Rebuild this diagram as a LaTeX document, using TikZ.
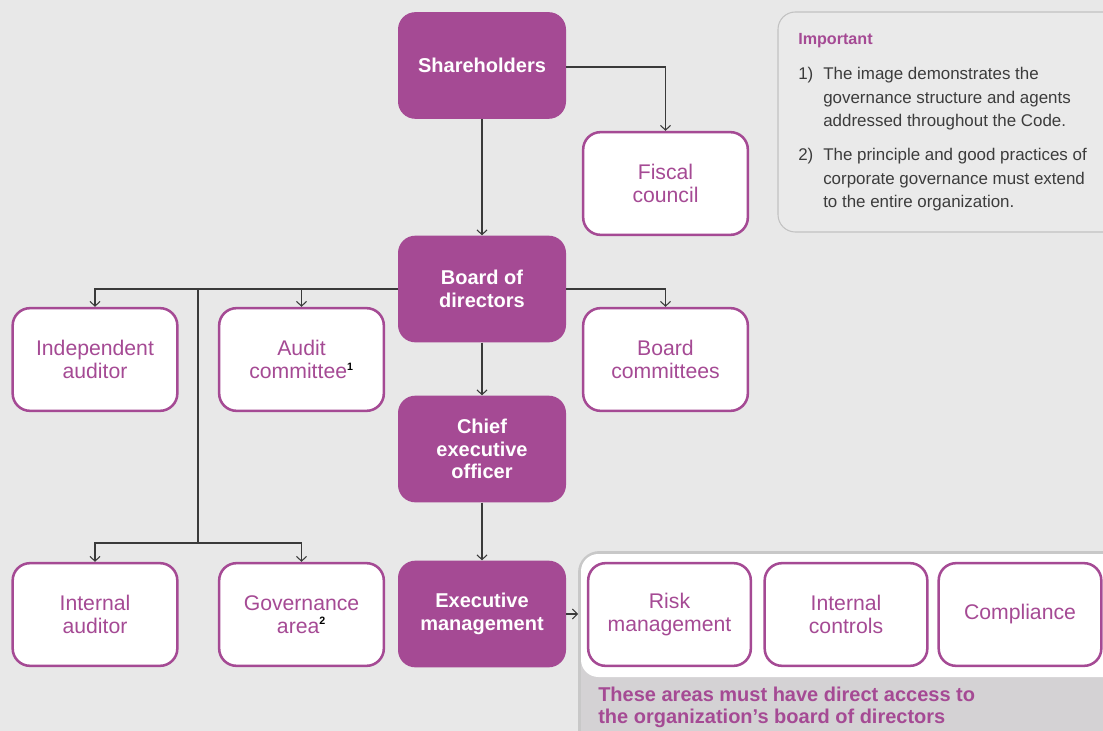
\documentclass[tikz,border=0pt]{standalone}
\usepackage{fontspec}
\setmainfont{Liberation Sans}
\usetikzlibrary{arrows.meta}
\definecolor{bg}{HTML}{E8E8E8}
\definecolor{purp}{HTML}{A54A94}
\definecolor{linec}{HTML}{3A3A3A}
\definecolor{txt}{HTML}{3C3C3C}
\definecolor{greyfill}{HTML}{D4D2D4}
\definecolor{greyedge}{HTML}{C8C8C8}
\definecolor{impfill}{HTML}{EAEAEA}
\definecolor{impedge}{HTML}{C2C2C2}
\newcommand{\supnum}[1]{\textsuperscript{\color{black}\bfseries\fontsize{8}{8}\selectfont #1}}
\begin{document}
\begin{tikzpicture}[x=0.75pt,y=-0.75pt,
 box/.style={rectangle, rounded corners=13pt, inner sep=0pt, align=center},
 dark/.style={box, fill=purp, text=white, minimum width=126pt, minimum height=80pt, font=\fontsize{15}{17}\selectfont\bfseries},
 light/.style={box, fill=white, draw=purp, line width=1.9pt, text=purp, minimum width=123.5pt, minimum height=77pt, font=\fontsize{15.9}{17}\selectfont},
 conn/.style={draw=linec, line width=0.8pt, -{Straight Barb[length=3.6pt,width=7.5pt]}},
 plain/.style={draw=linec, line width=0.8pt},
 imp/.style={anchor=base west, text=txt, inner sep=0pt, font=\fontsize{12.7}{18}\selectfont},
 note/.style={anchor=base west, text=purp, inner sep=0pt, font=\fontsize{15}{16.5}\selectfont\bfseries}]
\useasboundingbox (0,0) rectangle (1103,731);
\clip (0,0) rectangle (1103,731);
\fill[bg] (0,0) rectangle (1103,731);

% Important box
\draw[impedge, fill=impfill, line width=0.8pt, rounded corners=13pt] (778,12) rectangle (1140,232);
\node[anchor=base west, text=purp, inner sep=0pt, font=\fontsize{12.1}{13}\selectfont\bfseries] (imptitle) at (798,45) {Important};
\node[imp] (n1) at (798,80) {1)};
\node[imp] (l1a) at (823,80) {The image demonstrates the};
\node[imp] (l1b) at (823,103.5) {governance structure and agents};
\node[imp] (l1c) at (823,127) {addressed throughout the Code.};
\node[imp] (n2) at (798,161) {2)};
\node[imp] (l2a) at (823,161) {The principle and good practices of};
\node[imp] (l2b) at (823,184.5) {corporate governance must extend};
\node[imp] (l2c) at (823,208) {to the entire organization.};

% container for control areas
\draw[greyedge, fill=greyfill, line width=2.2pt, rounded corners=15pt] (579.5,552.5) rectangle (1140,770);
\fill[white, rounded corners=13pt] (581,554) rectangle (1140,677);
\node[note] (t1) at (598,701) {These areas must have direct access to};
\node[note] (t2) at (598,723) {the organization’s board of directors};
\coordinate (contw) at (578,614);

% nodes
\node[dark] (sh) at (482,65.5) {Shareholders};
\node[light] (fc) at (665.5,183.5) {Fiscal\\council};
\node[dark] (bd) at (482,289) {Board of\\directors};
\node[light] (ia) at (95,359.5) {Independent\\auditor};
\node[light] (ac) at (301.5,359.5) {Audit\\committee\supnum{1}};
\node[light] (bc) at (665.5,359.5) {Board\\committees};
\node[dark] (ceo) at (482,449) {Chief\\executive\\officer};
\node[light] (ina) at (95,614.5) {Internal\\auditor};
\node[light] (ga) at (301.5,614.5) {Governance\\area\supnum{2}};
\node[dark] (em) at (482,614) {Executive\\management};
\node[light, minimum width=122pt] (rm) at (669.5,614.5) {Risk\\management};
\node[light, minimum width=122pt] (ic) at (846,614.5) {Internal\\controls};
\node[light, minimum width=122pt] (co) at (1020,614.5) {Compliance};

% connectors
\coordinate (shr) at (566,67);
\draw[conn] (shr) -| (fc.north);
\draw[conn] (sh.south) -- (bd.north);
\draw[conn] (bd.west) -| (ia.north);
\draw[conn] (bd.west) -| (ac.north);
\draw[conn] (bd.east) -| (bc.north);
\coordinate (vt) at (198,289);
\coordinate (vb) at (198,543);
\draw[plain] (vt) -- (vb);
\draw[conn] (vb) -| (ina.north);
\draw[conn] (vb) -| (ga.north);
\draw[conn] (bd.south) -- (ceo.north);
\draw[conn] (ceo.south) -- (em.north);
\draw[conn] (em.east) -- (contw);
\end{tikzpicture}
\end{document}
